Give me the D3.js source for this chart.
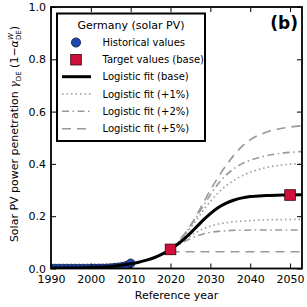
<!DOCTYPE html>
<html>
<head>
<meta charset="utf-8">
<script src="https://cdn.jsdelivr.net/npm/d3@7"></script>
<style>
  body { margin: 0; background: #fff; }
  text { font-family: "DejaVu Sans", sans-serif; }
</style>
</head>
<body>
<script>
// historical solar PV share (Germany)
var histYears = [1990,1991,1992,1993,1994,1995,1996,1997,1998,1999,2000,2001,2002,2003,2004,2005,2006,2007,2008,2009,2010];
var histValues = [0,0,0,0,0,0,0,0,0,0.0001,0.0001,0.0003,0.0004,0.0007,0.0011,0.0021,0.0035,0.0048,0.0073,0.011,0.02];

// target values (base)
var targetYears = [2020, 2050];
var targetValues = [0.073, 0.281];

// logistic fits
var fitYears = [1990,1995,2000,2005,2008,2010,2012,2014,2016,2018,2020,2022,2024,2026,2028,2030,2032,2034,2036,2038,2040,2044,2048,2053];
var fitBase = [0.001,0.002,0.004,0.008,0.013,0.018,0.024,0.032,0.042,0.056,0.073,0.095,0.121,0.151,0.182,0.21,0.233,0.25,0.262,0.27,0.275,0.279,0.281,0.282];

var varYears = [2020,2022,2024,2026,2028,2030,2032,2034,2036,2038,2040,2044,2048,2053];
var upper1 = [0.073,0.1,0.135,0.175,0.218,0.257,0.29,0.317,0.338,0.355,0.368,0.386,0.396,0.402];
var lower1 = [0.073,0.095,0.115,0.134,0.15,0.162,0.17,0.175,0.179,0.181,0.183,0.186,0.187,0.188];
var upper2 = [0.073,0.102,0.14,0.185,0.234,0.282,0.325,0.358,0.383,0.401,0.414,0.431,0.441,0.447];
var lower2 = [0.073,0.09,0.107,0.121,0.131,0.138,0.142,0.144,0.146,0.146,0.147,0.147,0.147,0.147];
var upper5 = [0.073,0.105,0.142,0.19,0.245,0.3,0.35,0.395,0.435,0.468,0.492,0.521,0.536,0.546];
var lower5 = [0.066,0.064,0.064,0.064,0.064,0.064,0.064,0.064,0.064,0.064,0.064,0.064,0.064,0.064];

var xTicks = [1990, 2000, 2010, 2020, 2030, 2040, 2050];
var yTicks = [0, 0.2, 0.4, 0.6, 0.8, 1.0];

var legendLabels = ["Historical values", "Target values (base)", "Logistic fit (base)",
                    "Logistic fit (+1%)", "Logistic fit (+2%)", "Logistic fit (+5%)"];

var W = 307, H = 307;
var box = {left: 51, right: 302, top: 7, bottom: 268.5};

var svg = d3.select("body").append("svg")
  .attr("width", W)
  .attr("height", H);

var x = d3.scaleLinear().domain([1990, 2053]).range([box.left, box.right]);
var y = d3.scaleLinear().domain([0, 1]).range([box.bottom, box.top]);

svg.append("defs").append("clipPath").attr("id", "clip")
  .append("rect")
  .attr("x", box.left).attr("y", box.top)
  .attr("width", box.right - box.left).attr("height", box.bottom - box.top);

var plot = svg.append("g").attr("clip-path", "url(#clip)");

var line = d3.line()
  .x(function(d) { return x(d[0]); })
  .y(function(d) { return y(d[1]); })
  .curve(d3.curveMonotoneX);

var gray = "#999999";
var styles = {
  dot: "1.5,3",
  dashdot: "7,3.5,1.5,3.5",
  dash: "9,6"
};

function variant(vals, dash) {
  plot.append("path")
    .datum(d3.zip(varYears, vals))
    .attr("d", line)
    .attr("fill", "none")
    .attr("stroke", gray)
    .attr("stroke-width", 1.6)
    .attr("stroke-dasharray", dash);
}
variant(upper1, styles.dot);
variant(lower1, styles.dot);
variant(upper2, styles.dashdot);
variant(lower2, styles.dashdot);
variant(upper5, styles.dash);
variant(lower5, styles.dash);

// historical markers
plot.selectAll(".hist")
  .data(d3.zip(histYears, histValues))
  .enter().append("circle")
  .attr("class", "hist")
  .attr("cx", function(d) { return x(d[0]); })
  .attr("cy", function(d) { return y(d[1]); })
  .attr("r", 4.3)
  .attr("fill", "#1d48b0")
  .attr("stroke", "#0a1a44")
  .attr("stroke-width", 0.8);

// base fit
plot.append("path")
  .datum(d3.zip(fitYears, fitBase))
  .attr("d", line)
  .attr("fill", "none")
  .attr("stroke", "#000")
  .attr("stroke-width", 3);

// target squares
svg.selectAll(".target")
  .data(d3.zip(targetYears, targetValues))
  .enter().append("rect")
  .attr("class", "target")
  .attr("x", function(d) { return x(d[0]) - 5.3; })
  .attr("y", function(d) { return y(d[1]) - 5.3; })
  .attr("width", 10.6)
  .attr("height", 10.6)
  .attr("fill", "#d0103a")
  .attr("stroke", "#330000")
  .attr("stroke-width", 0.8);

// axes, ticks inward on all four sides
svg.append("g")
  .attr("transform", "translate(0," + box.bottom + ")")
  .call(d3.axisBottom(x).tickValues(xTicks).tickFormat(d3.format("d"))
        .tickSizeInner(-5).tickSizeOuter(0).tickPadding(6.5))
  .call(function(g) { g.select(".domain").remove(); });
svg.append("g")
  .attr("transform", "translate(0," + box.top + ")")
  .call(d3.axisTop(x).tickValues(xTicks).tickFormat("")
        .tickSizeInner(-5).tickSizeOuter(0))
  .call(function(g) { g.select(".domain").remove(); });
svg.append("g")
  .attr("transform", "translate(" + box.left + ",0)")
  .call(d3.axisLeft(y).tickValues(yTicks).tickFormat(d3.format(".1f"))
        .tickSizeInner(-5).tickSizeOuter(0).tickPadding(5))
  .call(function(g) { g.select(".domain").remove(); });
svg.append("g")
  .attr("transform", "translate(" + box.right + ",0)")
  .call(d3.axisRight(y).tickValues(yTicks).tickFormat("")
        .tickSizeInner(-5).tickSizeOuter(0))
  .call(function(g) { g.select(".domain").remove(); });

svg.selectAll(".tick line").attr("stroke", "#000").attr("stroke-width", 1);
svg.selectAll(".tick text")
  .attr("font-size", 11)
  .attr("font-family", "DejaVu Sans, sans-serif")
  .attr("fill", "#000");

svg.append("rect")
  .attr("x", box.left).attr("y", box.top)
  .attr("width", box.right - box.left).attr("height", box.bottom - box.top)
  .attr("fill", "none")
  .attr("stroke", "#000")
  .attr("stroke-width", 1.8);

// axis labels
svg.append("text")
  .attr("x", (box.left + box.right) / 2)
  .attr("y", 299)
  .attr("text-anchor", "middle")
  .attr("font-size", 11)
  .text("Reference year");

var yl = svg.append("text")
  .attr("transform", "translate(18," + 134 + ") rotate(-90)")
  .attr("text-anchor", "middle")
  .attr("font-size", 11);
yl.append("tspan").text("Solar PV power penetration ");
yl.append("tspan").attr("font-style", "italic").attr("font-family", "DejaVu Serif, serif").text("γ");
yl.append("tspan").attr("font-size", 7).attr("dy", 2.5).text("DE");
yl.append("tspan").attr("dy", -2.5).text(" (1−");
yl.append("tspan").attr("font-style", "italic").attr("font-family", "DejaVu Serif, serif").text("α");
yl.append("tspan").attr("font-size", 7).attr("dy", -5).attr("font-style", "italic").text("W");
yl.append("tspan").attr("font-size", 7).attr("dy", 8).attr("dx", -7).text("DE");
yl.append("tspan").attr("dy", -3).text(")");

// panel tag
svg.append("text")
  .attr("x", 298)
  .attr("y", 29)
  .attr("text-anchor", "end")
  .attr("font-size", 17)
  .attr("font-weight", "bold")
  .text("(b)");

// legend
var lg = svg.append("g");
lg.append("rect")
  .attr("x", 57).attr("y", 13.5)
  .attr("width", 148).attr("height", 127.5)
  .attr("fill", "#fff")
  .attr("stroke", "#000")
  .attr("stroke-width", 2);
lg.append("text")
  .attr("x", 131).attr("y", 29)
  .attr("text-anchor", "middle")
  .attr("font-size", 11)
  .text("Germany (solar PV)");

var rowY = [42.5, 59.7, 76.7, 94, 111.3, 128.8];
lg.selectAll(".lt")
  .data(legendLabels)
  .enter().append("text")
  .attr("class", "lt")
  .attr("x", 102.5)
  .attr("y", function(d, i) { return rowY[i] + 3.6; })
  .attr("font-size", 10)
  .text(function(d) { return d; });

lg.append("circle")
  .attr("cx", 76).attr("cy", rowY[0]).attr("r", 4.6)
  .attr("fill", "#1d48b0").attr("stroke", "#0a1a44").attr("stroke-width", 0.8);
lg.append("rect")
  .attr("x", 76 - 5.3).attr("y", rowY[1] - 5.3)
  .attr("width", 10.6).attr("height", 10.6)
  .attr("fill", "#d0103a").attr("stroke", "#330000").attr("stroke-width", 0.8);
var handles = [[rowY[2], "#000", 3, null], [rowY[3], gray, 1.6, styles.dot],
               [rowY[4], gray, 1.6, styles.dashdot], [rowY[5], gray, 1.6, styles.dash]];
handles.forEach(function(h) {
  lg.append("line")
    .attr("x1", 62).attr("x2", 91)
    .attr("y1", h[0]).attr("y2", h[0])
    .attr("stroke", h[1])
    .attr("stroke-width", h[2])
    .attr("stroke-dasharray", h[3]);
});
</script>
</body>
</html>
